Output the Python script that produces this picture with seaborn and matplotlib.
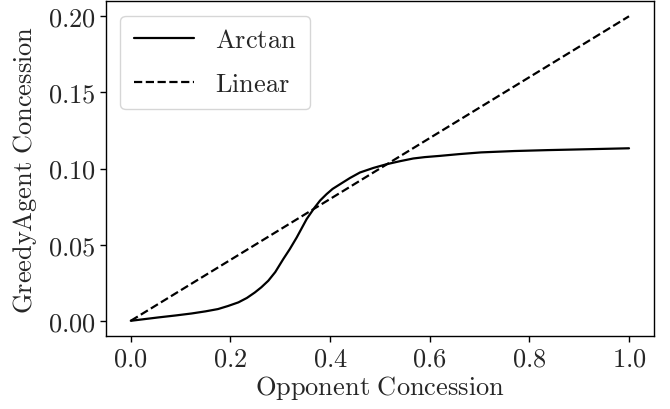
import matplotlib
matplotlib.use("Agg")
import matplotlib.pyplot as plt
import seaborn as sns
import pandas as pd

# Data
arctan_x = [0.0, 0.055, 0.09, 0.122, 0.15, 0.175, 0.195, 0.216, 0.233, 0.249,
            0.262, 0.276, 0.29, 0.306, 0.319, 0.333, 0.353, 0.369, 0.38, 0.393,
            0.405, 0.42, 0.44, 0.46, 0.487, 0.513, 0.54, 0.567, 0.59, 0.62,
            0.66, 0.703, 0.77, 0.837, 0.92, 1.0]
arctan_y = [0.0, 0.0022, 0.0035, 0.0048, 0.0062, 0.0077, 0.0097, 0.0121, 0.015, 0.0186,
            0.022, 0.0263, 0.032, 0.0405, 0.047, 0.0547, 0.0668, 0.0744, 0.079, 0.0832,
            0.0866, 0.0897, 0.0938, 0.0974, 0.1004, 0.1028, 0.1048, 0.1066, 0.1075, 0.1083,
            0.1095, 0.1106, 0.1115, 0.1121, 0.1127, 0.1133]
linear_x = [0.0, 1.0]
linear_y = [0.0, 0.2]
series_names = ["Arctan", "Linear"]
x_label = r"$\mathrm{Opponent\ Concession}$"
y_label = r"$\mathrm{GreedyAgent\ Concession}$"
x_ticks = [0.0, 0.2, 0.4, 0.6, 0.8, 1.0]
y_ticks = [0.0, 0.05, 0.10, 0.15, 0.20]

sns.set_style("ticks")
plt.rcParams["font.family"] = ["cmr10", "DejaVu Serif"]
plt.rcParams["mathtext.fontset"] = "cm"
plt.rcParams["axes.formatter.use_mathtext"] = True
plt.rcParams["axes.unicode_minus"] = False

df_a = pd.DataFrame({"x": arctan_x, "y": arctan_y})
df_l = pd.DataFrame({"x": linear_x, "y": linear_y})

fig = plt.figure(figsize=(6.7, 4.1), dpi=100)
ax = fig.add_axes([0.158, 0.178, 0.818, 0.817])

sns.lineplot(data=df_a, x="x", y="y", ax=ax, color="black", linewidth=1.6,
             label=r"$\mathrm{" + series_names[0] + "}$")
sns.lineplot(data=df_l, x="x", y="y", ax=ax, color="black", linewidth=1.6,
             linestyle="--", label=r"$\mathrm{" + series_names[1] + "}$")

fs = 19
ax.set_xlabel(x_label, fontsize=fs, labelpad=2)
ax.set_ylabel(y_label, fontsize=fs, labelpad=6)
ax.set_xticks(x_ticks)
ax.set_yticks(y_ticks)
ax.set_xticklabels([r"$%.1f$" % v for v in x_ticks])
ax.set_yticklabels([r"$%.2f$" % v for v in y_ticks])
ax.tick_params(labelsize=fs, length=4, width=1, color="black")
for s in ax.spines.values():
    s.set_color("black")
    s.set_linewidth(1.0)

leg = ax.legend(loc="upper left", fontsize=fs, frameon=True, fancybox=True,
                framealpha=0.8, edgecolor="0.8", handlelength=2.3,
                handletextpad=0.8, labelspacing=0.75, borderpad=0.5,
                borderaxespad=0.55)

fig.savefig("out.png", dpi=100)
